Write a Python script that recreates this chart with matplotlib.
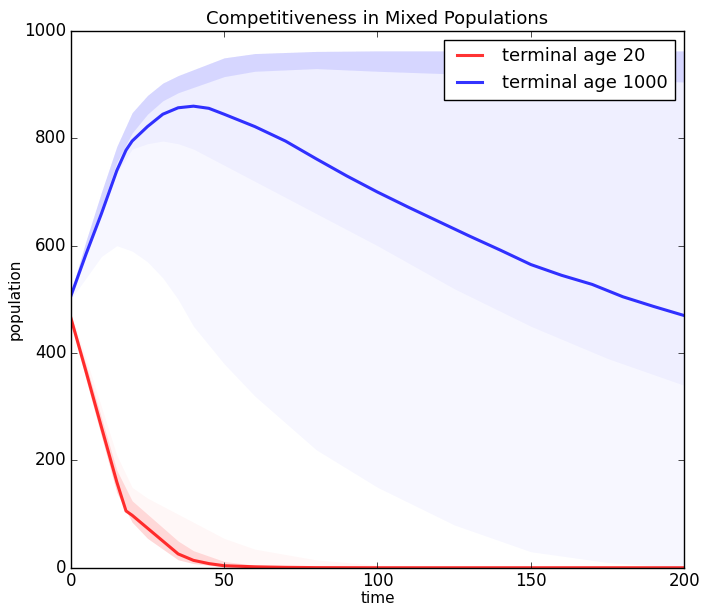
import matplotlib
matplotlib.use("Agg")
import matplotlib.pyplot as plt
import numpy as np

plt.style.use('classic')

# mean population over all runs
t_mean = [0, 5, 10, 15, 18, 20, 25, 30, 35, 40, 45, 50, 60, 70, 80, 90, 100,
          110, 120, 130, 140, 150, 160, 170, 180, 190, 200]
mean_20 = [466, 365, 262, 160, 106, 98, 74, 50, 26, 14, 8, 4, 2, 1, 0.5, 0.4, 0.3,
           0.3, 0.3, 0.3, 0.3, 0.3, 0.3, 0.3, 0.3, 0.3, 0.3]
mean_1000 = [506, 585, 660, 740, 778, 795, 822, 845, 857, 860, 856, 845, 822, 795,
             762, 730, 700, 672, 645, 618, 592, 565, 545, 528, 505, 487, 470]

# spread of the individual runs (outer edge, dense band, inner edges)
t_runs = [0, 5, 10, 15, 20, 25, 30, 35, 40, 50, 60, 80, 100, 125, 150, 175, 200]
runs_1000_top = [512, 610, 700, 785, 848, 880, 903, 917, 928, 950, 958, 962, 963, 963, 963, 963, 963]
runs_1000_band = [506, 590, 672, 755, 810, 845, 870, 885, 895, 915, 925, 930, 925, 920, 915, 910, 905]
runs_1000_mid = [505, 585, 660, 735, 780, 790, 795, 790, 780, 750, 720, 660, 600, 520, 450, 390, 340]
runs_1000_low = [500, 540, 580, 600, 590, 570, 540, 500, 450, 380, 320, 220, 150, 80, 30, 10, 0]
runs_20_top = [472, 378, 280, 182, 125, 100, 75, 50, 32, 12, 5, 2, 1, 1, 1, 1, 1]
runs_20_low = [458, 350, 245, 140, 85, 55, 35, 15, 8, 2, 0, 0, 0, 0, 0, 0, 0]
runs_20_haze = [475, 390, 300, 210, 150, 130, 115, 100, 85, 55, 35, 15, 5, 2, 1, 1, 1]

fig = plt.figure(figsize=(7.01, 6.08), dpi=100)
ax = fig.add_axes([0.101, 0.066, 0.875, 0.883])

ax.fill_between(t_runs, runs_1000_low, runs_1000_top, color='blue', alpha=0.03, lw=0)
ax.fill_between(t_runs, runs_1000_mid, runs_1000_top, color='blue', alpha=0.03, lw=0)
ax.fill_between(t_runs, runs_1000_band, runs_1000_top, color='blue', alpha=0.1, lw=0)
ax.fill_between(t_runs, runs_20_low, runs_20_haze, color='red', alpha=0.03, lw=0)
ax.fill_between(t_runs, runs_20_low, runs_20_top, color='red', alpha=0.12, lw=0)

ax.plot(t_mean, mean_20, color='red', lw=2.2, alpha=0.8, label='terminal age 20')
ax.plot(t_mean, mean_1000, color='blue', lw=2.2, alpha=0.8, label='terminal age 1000')

ax.set_xlim(0, 200)
ax.set_ylim(0, 1000)
ax.set_xticks([0, 50, 100, 150, 200])
ax.set_yticks([0, 200, 400, 600, 800, 1000])
ax.tick_params(labelsize=12, pad=3)
ax.set_xlabel('time', fontsize=11, labelpad=1)
ax.set_ylabel('population', fontsize=11, labelpad=1)
ax.set_title('Competitiveness in Mixed Populations', fontsize=13)
ax.legend(loc='upper right', fontsize=13)

fig.savefig('out.png', dpi=100)
